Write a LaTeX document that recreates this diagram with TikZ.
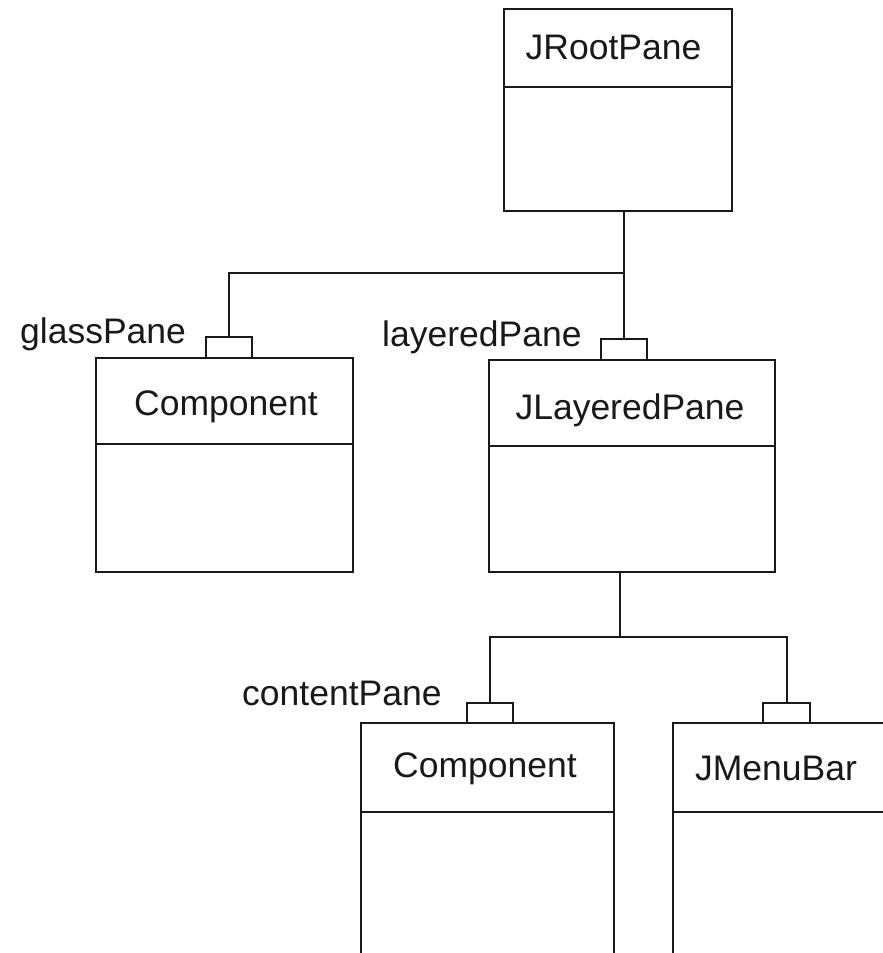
\documentclass[tikz,border=0pt]{standalone}
\usepackage{fontspec}
\setmainfont{Liberation Sans}
\begin{document}
\begin{tikzpicture}[x=1pt,y=-1pt,
  cls/.style={draw=black!90, line width=2pt, rectangle, inner sep=0pt, outer sep=0pt},
  qual/.style={cls, minimum width=46pt, minimum height=21pt},
  wire/.style={draw=black!90, line width=2pt},
  clsname/.style={inner sep=0pt, anchor=base, text=black!90, font=\fontsize{35.5}{42}\selectfont},
  rolename/.style={clsname, anchor=base west}]
\useasboundingbox (0,0) rectangle (883,953);
\clip (0,0) rectangle (883,953);
\fill[white] (0,0) rectangle (883,953);

% class boxes
\node[cls, minimum width=228pt, minimum height=202pt] (root) at (618,110) {};
\node[cls, minimum width=257pt, minimum height=214pt] (glass) at (224.5,465) {};
\node[cls, minimum width=286pt, minimum height=212pt] (layered) at (632,466) {};
\node[cls, minimum width=253pt, minimum height=260pt] (content) at (487.5,853) {};
\node[cls, minimum width=247pt, minimum height=260pt] (menubar) at (796.5,853) {};

% compartment dividers
\draw[wire] (root.west |- 0,87) -- (root.east |- 0,87);
\draw[wire] (glass.west |- 0,444) -- (glass.east |- 0,444);
\draw[wire] (layered.west |- 0,446) -- (layered.east |- 0,446);
\draw[wire] (content.west |- 0,812) -- (content.east |- 0,812);
\draw[wire] (menubar.west |- 0,812) -- (menubar.east |- 0,812);

% class names
\node[clsname] (tRoot) at (613.5,59) {JRootPane};
\node[clsname] (tGlass) at (226,415) {Component};
\node[clsname] (tLayered) at (630,419) {JLayeredPane};
\node[clsname] (tContent) at (485,777) {Component};
\node[clsname] (tMenu) at (776,780) {JMenuBar};

% qualifier boxes
\node[qual] (q1) at (229,347.5) {};
\node[qual] (q2) at (624,349.5) {};
\node[qual, minimum height=20pt] (q3) at (490,713) {};
\node[qual, minimum width=47pt, minimum height=20pt] (q4) at (786.5,713) {};

% role names
\node[rolename] (rGlass) at (20,343) {glassPane};
\node[rolename] (rLayered) at (382,346) {layeredPane};
\node[rolename] (rContent) at (242,705) {contentPane};

% aggregation tree connectors
\coordinate (j1) at (624,273);
\coordinate (j2) at (620,637);
\draw[wire] (q2.north) -- (q2.north |- root.south);
\draw[wire] (q1.north) |- (j1);
\draw[wire] (j2) -- (j2 |- layered.south);
\draw[wire] (q3.north) |- (j2) -| (q4.north);
\end{tikzpicture}
\end{document}
